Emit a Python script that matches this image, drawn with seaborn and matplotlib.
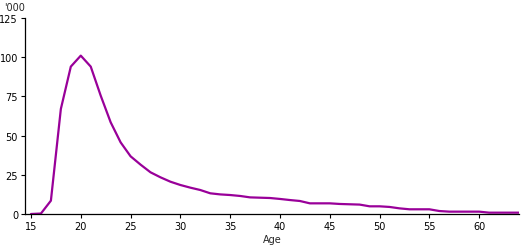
import matplotlib
matplotlib.use("Agg")
import matplotlib.pyplot as plt
import seaborn as sns
import pandas as pd

ages = list(range(15, 65))
values = [0, 0.3, 8.5, 67, 94, 101, 94, 75.5, 58.5, 45.7,
          36.8, 31.5, 26.6, 23.4, 20.6, 18.5, 16.8, 15.3, 13.2, 12.5,
          12.1, 11.5, 10.6, 10.4, 10.2, 9.6, 8.9, 8.3, 6.8, 6.8,
          6.8, 6.4, 6.2, 6.0, 4.9, 4.9, 4.5, 3.6, 3.0, 3.0,
          3.0, 1.9, 1.5, 1.5, 1.5, 1.5, 0.85, 0.85, 0.85, 0.85]
xticks = [15, 20, 25, 30, 35, 40, 45, 50, 55, 60]
yticks = [0, 25, 50, 75, 100, 125]

df = pd.DataFrame({"Age": ages, "Value": values})

sns.set_style("ticks")
plt.rcParams['font.family'] = ['DejaVu Sans']

fig = plt.figure(figsize=(5.29, 2.53), dpi=100)
ax = fig.add_axes([25/529, 1 - 215/253, (519 - 25)/529, (215 - 19)/253])
sns.lineplot(data=df, x="Age", y="Value", ax=ax, color="#990099", linewidth=1.6)

ax.set_xlim(14.4, 64)
ax.set_ylim(0, 125)
ax.set_xticks(xticks)
ax.set_yticks(yticks)
ax.tick_params(axis='both', labelsize=7, length=3, width=0.8, colors='black', pad=2)
for s in ['top', 'right']:
    ax.spines[s].set_visible(False)
for s in ['left', 'bottom']:
    ax.spines[s].set_color('black')
    ax.spines[s].set_linewidth(0.9)
ax.set_xlabel("Age", fontsize=7, labelpad=2)
ax.set_ylabel("")
fig.text(4/529, 1 - 8/253, "'000", fontsize=7, va='center', ha='left')

fig.savefig("out.png", dpi=100)
